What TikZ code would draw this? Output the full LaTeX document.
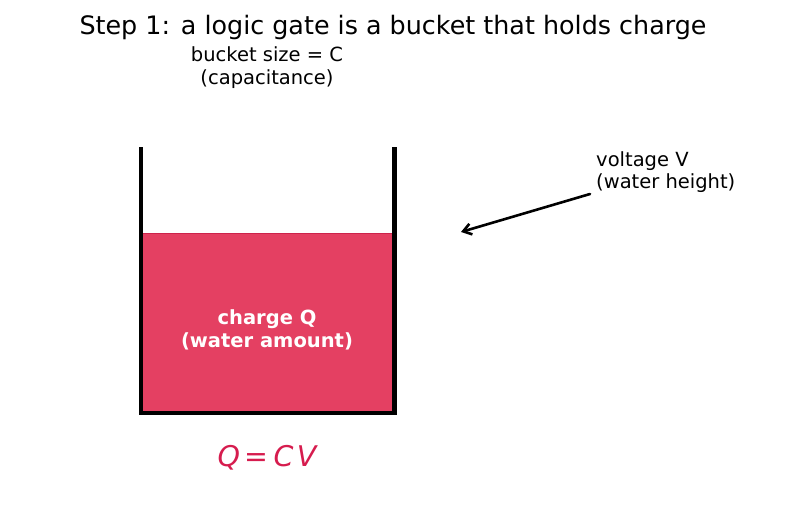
\documentclass[tikz,border=0pt]{standalone}
\usepackage{fontspec}
\setmainfont{DejaVu Sans}
\usetikzlibrary{arrows.meta}
\definecolor{waterfill}{RGB}{228,64,98}
\definecolor{wateredge}{RGB}{205,35,75}
\definecolor{formula}{RGB}{214,28,78}
\tikzset{
  lbl/.style={font=\fontsize{19.5}{22.5}\selectfont, align=center, inner sep=0pt},
  wall/.style={line width=4.2pt, line cap=butt},
}
\begin{document}
\begin{tikzpicture}[x=1pt,y=-1pt]
\useasboundingbox (0,0) rectangle (787,512);
% water
\fill[waterfill] (143,233) rectangle (392,411);
\draw[wateredge, line width=1.3pt] (143,233.5) -- (392,233.5);
% bucket
\draw[wall] (141,147) -- (141,413) -- (394.5,413) -- (394.5,147);
% texts
\node[font=\fontsize{25.4}{30}\selectfont, inner sep=0pt] (title) at (393,27) {Step 1: a logic gate is a bucket that holds charge};
\node[lbl] (size) at (267,67.5) {bucket size = C\\(capacitance)};
\node[lbl, text=white, font=\fontsize{19.5}{22.5}\selectfont\bfseries] (charge) at (267,330) {charge Q\\(water amount)};
\node[lbl, anchor=west, align=left] (volt) at (596,172) {voltage V\\(water height)};
\node[font=\fontsize{28.5}{32}\selectfont, text=formula, inner sep=0pt] (eq) at (267,458) {\itshape Q\upshape\,=\,\itshape C\kern0.12em V};
% arrow
\coordinate (as) at (590,194);
\coordinate (ae) at (461,232);
\draw[line width=2.6pt, line cap=round, -{Straight Barb[length=8pt,width=11pt,line width=2.6pt]}] (as) -- (ae);
\end{tikzpicture}
\end{document}
